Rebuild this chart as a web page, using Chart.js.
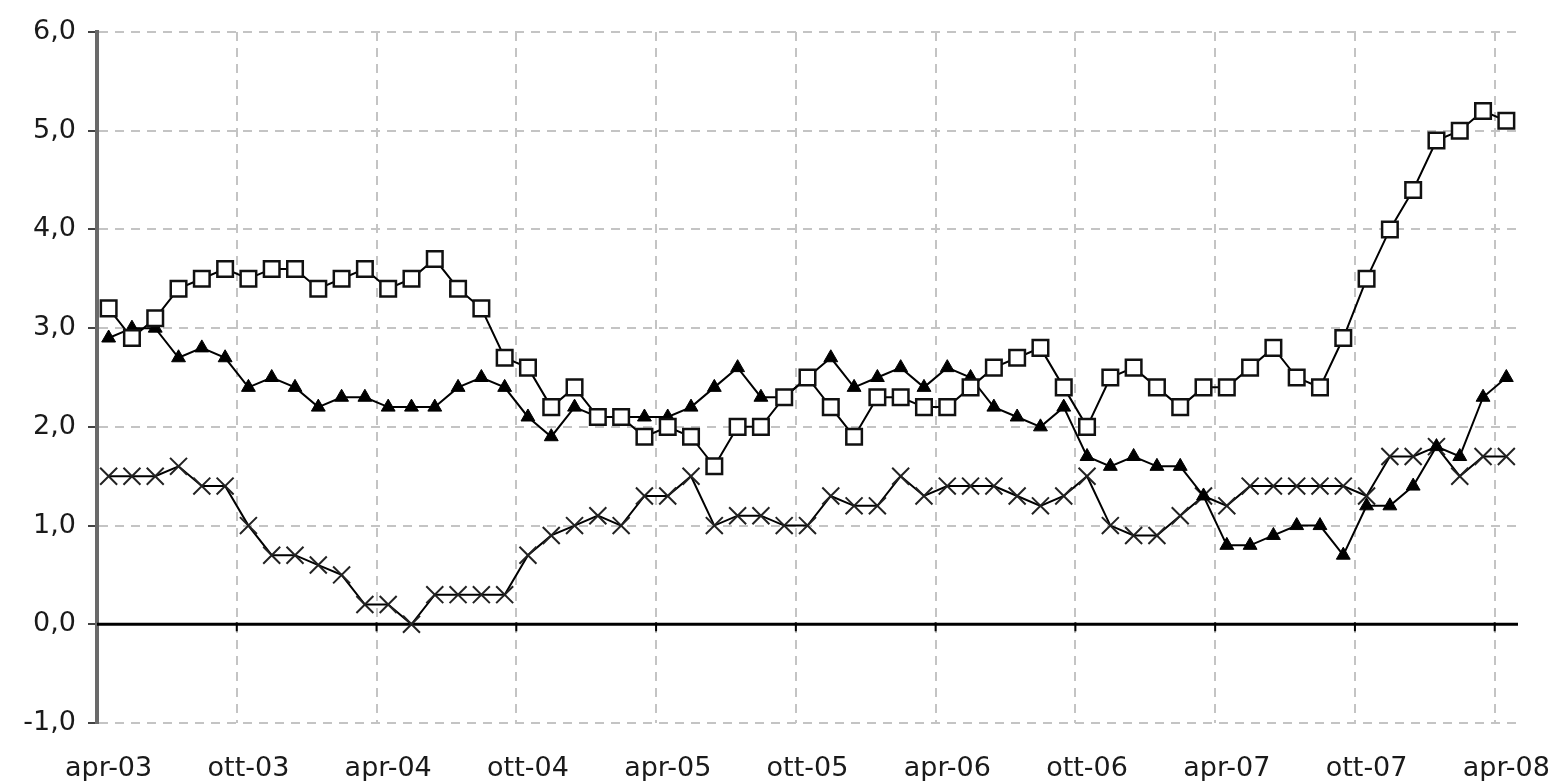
<!DOCTYPE html>
<html>
<head>
<meta charset="utf-8">
<script src="https://cdn.jsdelivr.net/npm/chart.js@4.4.1/dist/chart.umd.min.js"></script>
<style>
  html, body { margin: 0; padding: 0; background: #ffffff; }
  #wrap { width: 1554px; height: 781px; overflow: hidden; }
</style>
</head>
<body>
<div id="wrap"><canvas id="c" width="1554" height="781"></canvas></div>
<script>
// ---- categories (monthly, apr-03 .. apr-08) ----
const monthNames = ['gen','feb','mar','apr','mag','giu','lug','ago','set','ott','nov','dic'];
const categories = [];
for (let y = 2003; y <= 2008; y++) {
  for (let m = 0; m < 12; m++) {
    if (y === 2003 && m < 3) continue;
    if (y === 2008 && m > 3) continue;
    categories.push(monthNames[m] + '-' + String(y).slice(2));
  }
}
const tickEvery = 6;

// ---- series values ----
const seriesSquares = [
  3.2, 2.9, 3.1, 3.4, 3.5, 3.6, 3.5, 3.6, 3.6, 3.4,
  3.5, 3.6, 3.4, 3.5, 3.7, 3.4, 3.2, 2.7, 2.6, 2.2,
  2.4, 2.1, 2.1, 1.9, 2.0, 1.9, 1.6, 2.0, 2.0, 2.3,
  2.5, 2.2, 1.9, 2.3, 2.3, 2.2, 2.2, 2.4, 2.6, 2.7,
  2.8, 2.4, 2.0, 2.5, 2.6, 2.4, 2.2, 2.4, 2.4, 2.6,
  2.8, 2.5, 2.4, 2.9, 3.5, 4.0, 4.4, 4.9, 5.0, 5.2,
  5.1
];
const seriesTriangles = [
  2.9, 3.0, 3.0, 2.7, 2.8, 2.7, 2.4, 2.5, 2.4, 2.2,
  2.3, 2.3, 2.2, 2.2, 2.2, 2.4, 2.5, 2.4, 2.1, 1.9,
  2.2, 2.1, 2.1, 2.1, 2.1, 2.2, 2.4, 2.6, 2.3, 2.3,
  2.5, 2.7, 2.4, 2.5, 2.6, 2.4, 2.6, 2.5, 2.2, 2.1,
  2.0, 2.2, 1.7, 1.6, 1.7, 1.6, 1.6, 1.3, 0.8, 0.8,
  0.9, 1.0, 1.0, 0.7, 1.2, 1.2, 1.4, 1.8, 1.7, 2.3,
  2.5
];
const seriesCrosses = [
  1.5, 1.5, 1.5, 1.6, 1.4, 1.4, 1.0, 0.7, 0.7, 0.6,
  0.5, 0.2, 0.2, 0.0, 0.3, 0.3, 0.3, 0.3, 0.7, 0.9,
  1.0, 1.1, 1.0, 1.3, 1.3, 1.5, 1.0, 1.1, 1.1, 1.0,
  1.0, 1.3, 1.2, 1.2, 1.5, 1.3, 1.4, 1.4, 1.4, 1.3,
  1.2, 1.3, 1.5, 1.0, 0.9, 0.9, 1.1, 1.3, 1.2, 1.4,
  1.4, 1.4, 1.4, 1.4, 1.3, 1.7, 1.7, 1.8, 1.5, 1.7,
  1.7
];

// ---- y axis ticks ----
const yMin = -1;
const yMax = 6;
const yStep = 1;

const GRID = '#c4c4c4';
const FONT = 'DejaVu Sans, Liberation Sans, sans-serif';

const zeroLinePlugin = {
  id: 'zeroLine',
  beforeDatasetsDraw(chart) {
    const xs = chart.scales.x, ys = chart.scales.y, ctx = chart.ctx;
    const y0 = ys.getPixelForValue(0);
    const half = (xs.getPixelForValue(1) - xs.getPixelForValue(0)) / 2;
    ctx.save();
    ctx.strokeStyle = '#000';
    ctx.lineWidth = 3;
    ctx.beginPath();
    ctx.moveTo(chart.chartArea.left, y0);
    ctx.lineTo(chart.chartArea.right, y0);
    ctx.stroke();
    ctx.lineWidth = 2;
    for (let i = tickEvery; i < categories.length; i += tickEvery) {
      const x = xs.getPixelForValue(i) - half;
      ctx.beginPath();
      ctx.moveTo(x, y0 - 2);
      ctx.lineTo(x, y0 + 7);
      ctx.stroke();
    }
    ctx.restore();
  }
};

new Chart(document.getElementById('c'), {
  type: 'line',
  data: {
    labels: categories,
    datasets: [
      {
        data: seriesSquares,
        borderColor: '#000',
        borderWidth: 2,
        pointStyle: 'rect',
        pointRadius: 11,
        pointBackgroundColor: '#ffffff',
        pointBorderColor: '#111',
        pointBorderWidth: 2.5,
        tension: 0
      },
      {
        data: seriesTriangles,
        borderColor: '#000',
        borderWidth: 2,
        pointStyle: 'triangle',
        pointRadius: 8,
        pointBackgroundColor: '#000',
        pointBorderColor: '#000',
        pointBorderWidth: 1,
        tension: 0
      },
      {
        data: seriesCrosses,
        borderColor: '#000',
        borderWidth: 2,
        pointStyle: 'crossRot',
        pointRadius: 12,
        pointBorderColor: '#222',
        pointBorderWidth: 2,
        tension: 0
      }
    ]
  },
  options: {
    responsive: false,
    animation: false,
    events: [],
    layout: { padding: { left: 0, top: 32, right: 36, bottom: 0 } },
    plugins: { legend: { display: false }, tooltip: { enabled: false } },
    scales: {
      x: {
        type: 'category',
        offset: true,
        grid: {
          offset: true,
          drawTicks: false,
          lineWidth: 2,
          color: (c) => (c.index % tickEvery === 0 ? GRID : 'rgba(0,0,0,0)')
        },
        border: { display: false, dash: [9, 7] },
        ticks: {
          autoSkip: false,
          maxRotation: 0,
          minRotation: 0,
          padding: 30,
          color: '#1a1a1a',
          font: { family: FONT, size: 27 },
          callback: function (v, i) { return i % tickEvery === 0 ? categories[i] : ''; }
        },
        afterFit: (s) => { s.height = 58; s.paddingLeft = 0; s.paddingRight = 0; }
      },
      y: {
        min: yMin,
        max: yMax,
        ticks: {
          stepSize: yStep,
          padding: 12,
          color: '#1a1a1a',
          font: { family: FONT, size: 27 },
          callback: (v) => v.toFixed(1).replace('.', ',')
        },
        grid: {
          lineWidth: 2,
          color: (c) => (c.tick && c.tick.value === 0 ? 'rgba(0,0,0,0)' : GRID),
          tickColor: '#444',
          tickLength: 9,
          tickWidth: 2
        },
        border: { display: true, color: '#6a6a6a', width: 4, dash: [9, 7] },
        afterFit: (s) => { s.width = 97; s.paddingTop = 0; s.paddingBottom = 0; }
      }
    }
  },
  plugins: [zeroLinePlugin]
});
</script>
</body>
</html>
